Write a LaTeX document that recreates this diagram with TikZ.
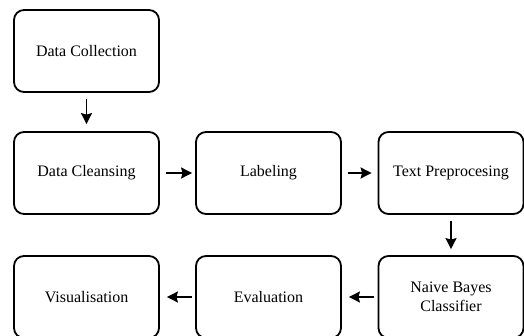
\documentclass[tikz,border=0pt]{standalone}
\usepackage{fontspec}
\setmainfont{Liberation Serif}
\usetikzlibrary{arrows.meta}
\begin{document}
\begin{tikzpicture}[x=1pt,y=-1pt,
  box/.style={draw=black,line width=1.8pt,rounded corners=10pt,minimum width=145pt,minimum height=82pt,
    align=center,font=\fontsize{16}{19}\selectfont,inner sep=0pt},
  conn/.style={line width=1.8pt,-{Stealth[length=11pt,width=11pt,inset=1.5pt]}}]
\useasboundingbox (0,0) rectangle (524,336);
\clip (0,0) rectangle (524,336);
\node[box] (dc) at (86.5,51) {Data Collection};
\node[box] (cl) at (86.5,173) {Data Cleansing};
\node[box] (lb) at (268.5,173) {Labeling};
\node[box] (tp) at (451,173) {Text Preprocesing};
\node[box] (nb) at (451,297) {Naive Bayes\\Classifier};
\node[box] (ev) at (268.5,297) {Evaluation};
\node[box] (vi) at (86.5,297) {Visualisation};
\draw[conn] ([yshift=-6pt]dc.south) -- ([yshift=7pt]cl.north);
\draw[conn] ([xshift=6pt]cl.east) -- ([xshift=-3pt]lb.west);
\draw[conn] ([xshift=6pt]lb.east) -- ([xshift=-6pt]tp.west);
\draw[conn] ([yshift=-6pt]tp.south) -- ([yshift=6pt]nb.north);
\draw[conn] ([xshift=-4pt]nb.west) -- ([xshift=7pt]ev.east);
\draw[conn] ([xshift=-3pt]ev.west) -- ([xshift=7pt]vi.east);
\end{tikzpicture}
\end{document}
